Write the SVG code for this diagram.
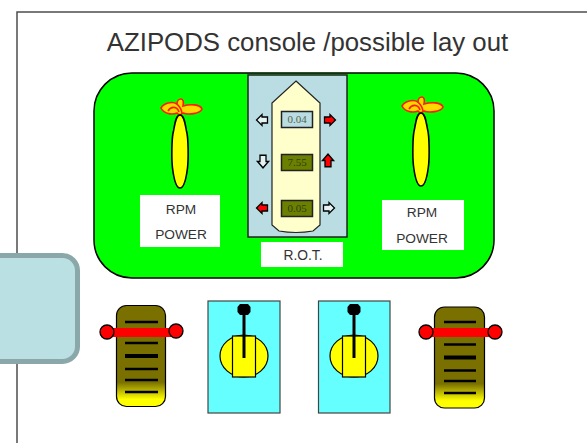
<svg xmlns="http://www.w3.org/2000/svg" width="587" height="443" viewBox="0 0 587 443">
<defs>
<linearGradient id="lev" x1="0" y1="0" x2="0" y2="1"><stop offset="0" stop-color="#7a7000"/><stop offset="0.76" stop-color="#7a7000"/><stop offset="0.93" stop-color="#ffff00"/><stop offset="1" stop-color="#ffff00"/></linearGradient>
<g id="prop">
<path class="p" d="M-19,-10C-16,-15 -8,-17 -3,-14C-3,-17 -1,-19 1,-19C3,-19 4,-16 3,-12C10,-14 20,-14 22,-9C20,-4 8,-3 3,-5C1,-3 -2,-3 -3,-5C-8,-3 -16,-4 -19,-10Z"/>
<path class="p" fill="none" d="M-12,-7C-9,-12 -3,-12 -1,-6M-3,-14C0,-11 2,-8 2,-4"/>
<path class="b bl" d="M0,-3C4,-3 5,5 6.500,13C8.500,20 8.500,42 7.500,50C6.500,58 4,70 0,70C-4,70 -6.500,58 -7.500,50C-8.500,42 -8.500,20 -6.500,13C-5,5 -4,-3 0,-3Z"/>
</g>
<g id="stick">
<ellipse class="b" cx="0" cy="2" rx="24" ry="21"/>
<rect class="b" x="-11.500" y="-18" width="23" height="41"/>
<line class="k" x1="0" y1="-44" x2="0" y2="4" stroke-width="3"/>
<path d="M-4,-50H4L6.500,-47V-42L4,-39H-4L-6.500,-42V-47Z" fill="#000"/>
</g>
<path id="ar" d="M-5.500,-3H0V-5.500L5.500,0L0,5.500V3H-5.500Z"/>
</defs>
<style>
.p{fill:#ffd800;stroke:#ff1a00;stroke-width:1.600}
.b{fill:#ffff00;stroke:#000;stroke-width:1.200}
.bl{stroke-width:1.600}
.k{stroke:#000}
.t{font-family:"Liberation Sans",Arial,sans-serif;fill:#333;text-anchor:middle}
.d{font-family:"Liberation Serif","Times New Roman",serif;font-size:11px;text-anchor:middle;fill:#55654a}
.dk{fill:#2f3d10}
.r{fill:#ff0000;stroke:#000;stroke-width:1.300}
.w{fill:#e4f3f4;stroke:#000;stroke-width:1.300}
.bar{stroke:#000;stroke-width:2.500}
</style>
<rect width="587" height="443" fill="#fff"/>
<path id="page" d="M17,443V12H587" fill="none" stroke="#4d4d4d" stroke-width="1.500"/>
<text class="t" x="307.500" y="51" font-size="25.800">AZIPODS console /possible lay out</text>
<g id="console">
<rect x="94" y="73" width="400" height="205" rx="38" fill="#00ff00" stroke="#000" stroke-width="1.500"/>
</g>
<g id="rot-panel">
<rect x="248" y="75" width="99" height="162" fill="#b9dde3" stroke="#222" stroke-width="1.500"/>
<path d="M296,81L320,103V225L313,231Q296,234 279,231L272,225V103Z" fill="#ffffcc" stroke="#222" stroke-width="1.200"/>
<rect x="281.500" y="111.500" width="31" height="16" fill="#b9dde3" stroke="#222" stroke-width="1.500"/>
<text class="d" x="297" y="123">0.04</text>
<rect x="281.500" y="154.500" width="31" height="16" fill="#6b8000" stroke="#222" stroke-width="1.500"/>
<text class="d dk" x="297" y="166">7.55</text>
<rect x="281.500" y="200.500" width="31" height="16" fill="#6b8000" stroke="#222" stroke-width="1.500"/>
<text class="d dk" x="297" y="212">0.05</text>
<use href="#ar" class="w" transform="translate(262,120) rotate(180)"/>
<use href="#ar" class="r" transform="translate(330,120)"/>
<use href="#ar" class="w" transform="translate(263,161.500) rotate(90) scale(1.150,1)"/>
<use href="#ar" class="r" transform="translate(328,160.500) rotate(-90) scale(1.150,1)"/>
<use href="#ar" class="r" transform="translate(262,208) rotate(180)"/>
<use href="#ar" class="w" transform="translate(329,208)"/>
</g>
<g id="rot-label">
<rect x="261" y="242" width="82" height="25" fill="#fff"/>
<text class="t" x="303" y="260" font-size="13.800">R.O.T.</text>
</g>
<g id="pod-left"><use href="#prop" x="180" y="118"/></g>
<g id="pod-right"><use href="#prop" x="421" y="116"/></g>
<g id="rpm-left">
<rect x="140" y="195" width="80" height="52" fill="#fff"/>
<text class="t" x="181" y="214" font-size="13.700">RPM</text>
<text class="t" x="181" y="239" font-size="13.700">POWER</text>
</g>
<g id="rpm-right">
<rect x="382" y="200" width="82" height="50" fill="#fff"/>
<text class="t" x="422" y="217" font-size="13.700">RPM</text>
<text class="t" x="422" y="243" font-size="13.700">POWER</text>
</g>
<g id="lever-left">
<rect x="116.500" y="305.500" width="49" height="101" rx="10" fill="url(#lev)" stroke="#000" stroke-width="1.200"/>
<g class="k"><line x1="125" y1="322" x2="158" y2="322" class="bar"/><line x1="125" y1="343" x2="158" y2="343" class="bar"/><line x1="125" y1="356" x2="158" y2="356" stroke-width="4"/><line x1="125" y1="369" x2="158" y2="369" class="bar"/><line x1="125" y1="380" x2="158" y2="380" class="bar"/><line x1="125" y1="392" x2="158" y2="392" class="bar"/></g>
<rect x="112" y="328" width="60" height="9" fill="#ff0000"/>
<circle class="r" cx="107" cy="332" r="7"/>
<circle class="r" cx="176" cy="331" r="7"/>
</g>
<g id="panel-left">
<rect x="208" y="301" width="72" height="112" fill="#66ffff" stroke="#444" stroke-width="1.200"/>
<use href="#stick" x="244" y="354"/>
</g>
<g id="panel-right">
<rect x="318.500" y="301" width="71.500" height="112" fill="#66ffff" stroke="#444" stroke-width="1.200"/>
<use href="#stick" x="354" y="354"/>
</g>
<g id="lever-right">
<rect x="434.500" y="307" width="50" height="101" rx="10" fill="url(#lev)" stroke="#000" stroke-width="1.200"/>
<g class="k"><line x1="444" y1="322" x2="476" y2="322" class="bar"/><line x1="444" y1="344.500" x2="476" y2="344.500" class="bar"/><line x1="444" y1="357.500" x2="476" y2="357.500" stroke-width="4"/><line x1="444" y1="370.500" x2="476" y2="370.500" class="bar"/><line x1="444" y1="381" x2="476" y2="381" class="bar"/><line x1="444" y1="393" x2="476" y2="393" class="bar"/></g>
<rect x="430" y="328" width="60" height="9" fill="#ff0000"/>
<circle class="r" cx="426" cy="332" r="7"/>
<circle class="r" cx="495" cy="332" r="7"/>
</g>
<g id="overlay">
<rect x="-20" y="255.500" width="97.500" height="106" rx="15" fill="#bbe0e3" stroke="#8aa8aa" stroke-width="5"/>
</g>
</svg>
